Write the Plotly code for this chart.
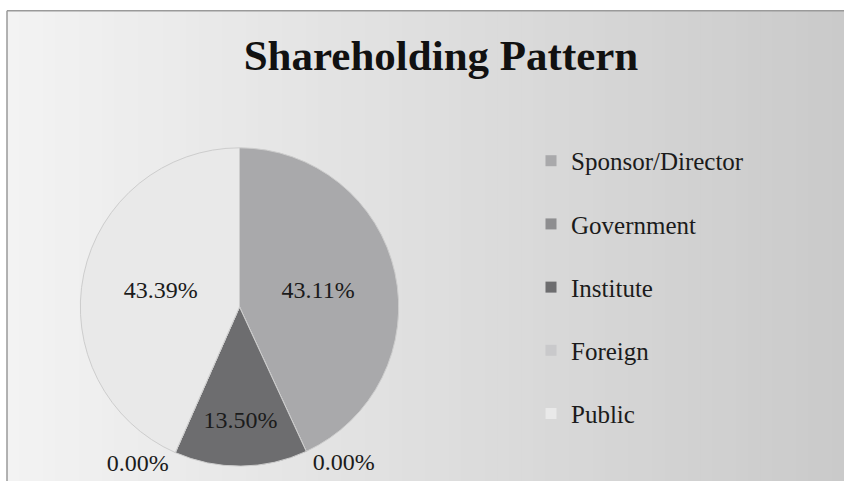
import plotly.graph_objects as go

# ---- data ----
categories = ["Sponsor/Director", "Government", "Institute", "Foreign", "Public"]
shares = [43.11, 0.00, 13.50, 0.00, 43.39]
slice_colors = ["#a9a9ab", "#8e8e90", "#6d6d6f", "#c9c9cb", "#e9e9e9"]
label_positions = ["inside", "outside", "inside", "outside", "inside"]
title_text = "Shareholding Pattern"

W, H = 844, 481
FONT = "Liberation Serif"
TXT = "#1b1b1b"

fig = go.Figure()

fig.add_trace(go.Pie(
    labels=categories,
    values=shares,
    sort=False,
    direction="clockwise",
    rotation=0,
    marker=dict(colors=slice_colors, line=dict(color="#cdcdcd", width=1)),
    texttemplate="%{percent:.2%}",
    textposition=label_positions,
    textfont=dict(family=FONT, size=24, color=TXT),
    insidetextorientation="horizontal",
    showlegend=False,
    domain=dict(x=[77 / W, 402 / W], y=[(H - 473) / H, (H - 150) / H]),
))

# legend entries (one per category, to keep the wide spacing of the original)
for i, (name, col) in enumerate(zip(categories, slice_colors)):
    fig.add_trace(go.Scatter(
        x=[None], y=[None], mode="markers", name=name,
        marker=dict(symbol="square", size=11, color=col),
        legendgroup=f"g{i}", showlegend=True, hoverinfo="skip",
    ))

# gradient background (light left -> darker right)
shapes = []
x_start = 7
N = 70
left_rgb, right_rgb = 243, 202
for k in range(N):
    x0 = x_start + (W - x_start) * k / N
    x1 = x_start + (W - x_start) * (k + 1) / N + 1
    t = (k + 0.5) / N
    v = round(left_rgb + (right_rgb - left_rgb) * t)
    shapes.append(dict(type="rect", xref="paper", yref="paper",
                       x0=x0 / W, x1=x1 / W, y0=-0.02, y1=(H - 11) / H,
                       fillcolor=f"rgb({v},{v},{v})", line=dict(width=0),
                       layer="below"))
# chart-area border (top and left visible)
shapes.append(dict(type="line", xref="paper", yref="paper",
                   x0=x_start / W, x1=1, y0=(H - 11) / H, y1=(H - 11) / H,
                   line=dict(color="#9a9a9a", width=1.5), layer="below"))
shapes.append(dict(type="line", xref="paper", yref="paper",
                   x0=x_start / W, x1=x_start / W, y0=-0.02, y1=(H - 11) / H,
                   line=dict(color="#9a9a9a", width=1.5), layer="below"))

fig.update_layout(
    width=W, height=H,
    margin=dict(l=0, r=0, t=0, b=0),
    paper_bgcolor="white",
    plot_bgcolor="rgba(0,0,0,0)",
    shapes=shapes,
    title=dict(text=f"<b>{title_text}</b>", x=441 / W, xanchor="center",
               y=1 - 56 / H, yanchor="middle", yref="paper",
               font=dict(family=FONT, size=43, color="#111111")),
    xaxis=dict(visible=False),
    yaxis=dict(visible=False),
    legend=dict(x=531 / W, xanchor="left", y=1 - 140 / H, yanchor="top",
                bgcolor="rgba(0,0,0,0)", tracegroupgap=27.7,
                font=dict(family=FONT, size=25, color=TXT)),
    uniformtext=dict(minsize=24, mode="show"),
)

fig.write_html(
    "out.html",
    config={"displayModeBar": False},
    post_script="document.body.style.margin='0px';document.body.style.overflow='hidden';",
)
